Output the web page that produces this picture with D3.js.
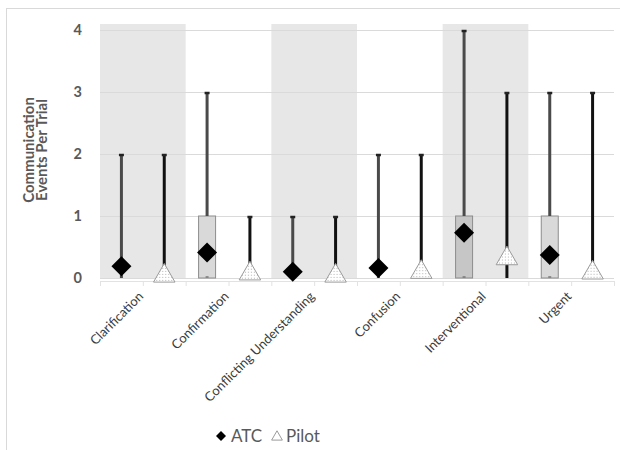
<!DOCTYPE html>
<html><head><meta charset="utf-8">
<script src="https://cdn.jsdelivr.net/npm/d3@7"></script>
<style>body{margin:0;background:#fff;}svg{display:block;font-family:Lato,"Open Sans",sans-serif;}</style>
</head><body>
<svg id="c" width="620" height="450"></svg>
<script>
const categories = ["Clarification","Confirmation","Conflicting Understanding","Confusion","Interventional","Urgent"];
const groups = ["ATC","Pilot"];
const atcMean = [0.19,0.41,0.10,0.16,0.73,0.37];
const atcQ1 = [0,0,0,0,0,0];
const atcQ3 = [0,1,0,0,1,1];
const atcMax = [2,3,1,2,4,3];
const pilotMean = [0.05,0.085,0.05,0.11,0.33,0.10];
const pilotQ1 = [0,0,0,0,0,0];
const pilotQ3 = [0,0,0,0,0,0];
const pilotMax = [2,1,1,2,3,3];
const yTicks = [0,1,2,3,4];
const shaded = [true,false,true,false,true,false];

const svg = d3.select("#c");
const defs = svg.append("defs");
const pat = defs.append("pattern").attr("id","dots").attr("patternUnits","userSpaceOnUse").attr("width",3).attr("height",3);
pat.append("rect").attr("width",3).attr("height",3).attr("fill","#fff");
pat.append("circle").attr("cx",1.5).attr("cy",1.5).attr("r",0.6).attr("fill","#aaa");

// outer border
svg.append("rect").attr("x",6.5).attr("y",8.5).attr("width",620).attr("height",450).attr("fill","none").attr("stroke","#d9d9d9");

const x = d3.scaleBand().domain(categories).range([100,614]).paddingInner(0).paddingOuter(0);
const xi = d3.scaleBand().domain(groups).range([0,x.bandwidth()]);
const y = d3.scaleLinear().domain([0,4]).range([278,30]);

// shaded bands
svg.append("g").selectAll("rect").data(categories.filter((c,i)=>shaded[i])).join("rect")
  .attr("x",d=>x(d)).attr("width",x.bandwidth()).attr("y",24).attr("height",y(0)-24).attr("fill","#e7e7e7");

// gridlines
svg.append("g").selectAll("line").data(yTicks).join("line")
  .attr("x1",100).attr("x2",614).attr("y1",d=>y(d)+0.5).attr("y2",d=>y(d)+0.5)
  .attr("stroke","#dadada").attr("stroke-width",1);

// axis line + ticks
svg.append("line").attr("x1",100).attr("x2",614).attr("y1",281.5).attr("y2",281.5).attr("stroke","#e2e2e2");
const tickPos = [];
categories.forEach(c=>{tickPos.push(x(c)); tickPos.push(x(c)+x.bandwidth()/2);});
tickPos.push(614);
svg.append("g").selectAll("line").data(tickPos).join("line")
  .attr("x1",d=>d+0.5).attr("x2",d=>d+0.5).attr("y1",281).attr("y2",286).attr("stroke","#e2e2e2");

// y tick labels
svg.append("g").selectAll("text").data(yTicks).join("text")
  .attr("x",82).attr("y",d=>y(d)).attr("dy","0.35em").attr("text-anchor","end")
  .attr("font-size",14.5).attr("font-weight","bold").attr("fill","#595959").text(d=>d);

// y title
const yt = svg.append("g").attr("transform","translate(34,150) rotate(-90)");
yt.append("text").attr("x",0).attr("y",0).attr("text-anchor","middle")
  .attr("font-size",15).attr("font-weight","bold").attr("fill","#595959").text("Communication");
yt.append("text").attr("x",0).attr("y",13).attr("text-anchor","middle")
  .attr("font-size",15).attr("font-weight","bold").attr("fill","#595959").text("Events Per Trial");

// x labels
const xl = svg.append("g");
categories.forEach(c=>{
  xl.append("g").attr("transform","translate(" + (x(c)+x.bandwidth()/2 - 2) + ",294)")
    .append("text").attr("transform","rotate(-45)")
    .attr("text-anchor","end").attr("dy","0.35em").attr("font-size",13).attr("fill","#3a3a3a").text(c);
});

const boxFill = ["#d9d9d9","#d9d9d9","#d9d9d9","#d9d9d9","#c6c6c6","#d9d9d9"];
const boxW = 17;

function drawSeries(g, grp, q1, q3, mx, color) {
  categories.forEach((c,i)=>{
    const cx = x(c)+xi(grp)+xi.bandwidth()/2;
    if (q3[i] > q1[i]) {
      g.append("rect").attr("x",cx-boxW/2).attr("width",boxW).attr("y",y(q3[i])).attr("height",y(q1[i])-y(q3[i]))
        .attr("fill",boxFill[i]).attr("stroke","#8c8c8c").attr("stroke-width",1);
      g.append("line").attr("x1",cx-1.5).attr("x2",cx+1.5).attr("y1",y(q1[i])-1).attr("y2",y(q1[i])-1).attr("stroke","#777").attr("stroke-width",1.5);
    }
    g.append("line").attr("x1",cx).attr("x2",cx).attr("y1",y(q3[i])).attr("y2",y(mx[i]))
      .attr("stroke",color).attr("stroke-width",3);
    g.append("line").attr("x1",cx-2.5).attr("x2",cx+2.5).attr("y1",y(mx[i])+1).attr("y2",y(mx[i])+1)
      .attr("stroke","#222").attr("stroke-width",2.5);
  });
}
const gS = svg.append("g");
drawSeries(gS,"ATC",atcQ1,atcQ3,atcMax,"#4a4a4a");
drawSeries(gS,"Pilot",pilotQ1,pilotQ3,pilotMax,"#111");

// markers
svg.append("g").selectAll("path").data(categories).join("path")
  .attr("d",d3.symbol().type(d3.symbolSquare).size(200))
  .attr("transform",(d,i)=>`translate(${x(d)+xi("ATC")+xi.bandwidth()/2},${y(atcMean[i])}) rotate(45)`)
  .attr("fill","#000");

const tri = d3.symbol().type(d3.symbolTriangle).size(200);
svg.append("g").selectAll("path").data(categories).join("path")
  .attr("transform",(d,i)=>`translate(${x(d)+xi("Pilot")+xi.bandwidth()/2},${y(pilotMean[i])+1})`)
  .attr("d",tri).attr("fill","url(#dots)").attr("stroke","#9a9a9a").attr("stroke-width",1);

// legend
const lg = svg.append("g");
lg.append("path").attr("transform","translate(221,436) rotate(45)").attr("d",d3.symbol().type(d3.symbolSquare).size(50)).attr("fill","#000");
lg.append("text").attr("x",231).attr("y",436).attr("dy","0.35em").attr("font-size",17).attr("fill","#595959").text("ATC");
lg.append("path").attr("transform","translate(277,437)").attr("d",d3.symbol().type(d3.symbolTriangle).size(50)).attr("fill","#fff").attr("stroke","#9a9a9a");
lg.append("text").attr("x",286).attr("y",436).attr("dy","0.35em").attr("font-size",17).attr("fill","#595959").text("Pilot");
</script>
</body></html>
